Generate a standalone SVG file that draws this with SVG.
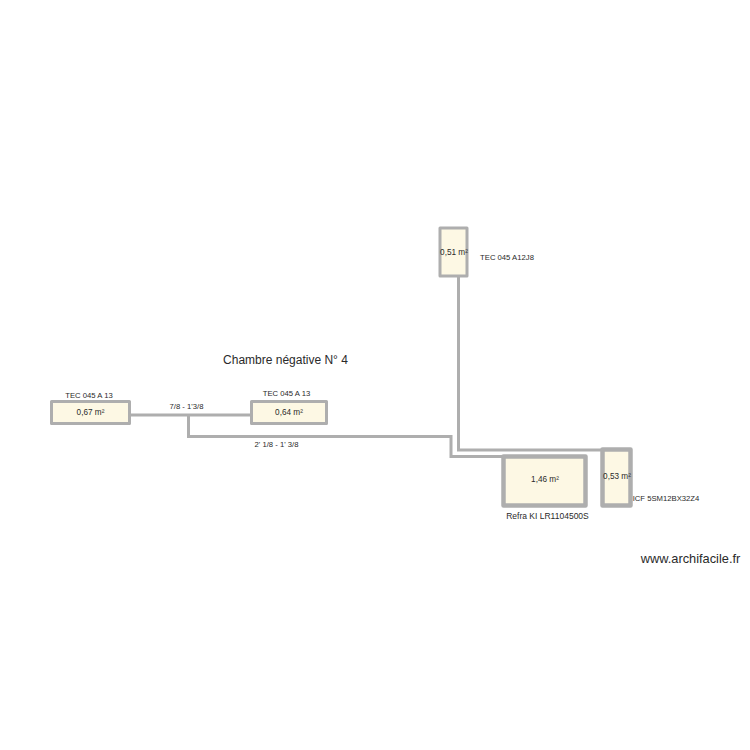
<svg xmlns="http://www.w3.org/2000/svg" width="750" height="750" viewBox="0 0 750 750">
<style>
text{font-family:"Liberation Sans",Arial,sans-serif;fill:#2a2a2a;text-anchor:middle}
.s{font-size:7.700px}
.a{font-size:8.200px}
.room{fill:#fdf8e4;stroke:#aeaeae;stroke-linejoin:round}
.thin{stroke-width:3px}
.thick{stroke-width:4.500px}
.pipe{fill:none;stroke:#aeaeae;stroke-width:3px}
</style>
<rect width="750" height="750" fill="#fff"/>
<g id="connectors">
<path class="pipe" d="M130 415H251"/>
<path class="pipe" d="M188.500 415V436.500H451V456.500H503"/>
<path class="pipe" d="M458.500 277V450H602"/>
</g>
<g id="node-tec-1"><rect class="room thin" x="51.500" y="401.500" width="78" height="22"/><text class="a" x="90.500" y="415">0,67 m²</text><text class="s" x="89" y="398">TEC 045 A 13</text></g>
<g id="node-tec-2"><rect class="room thin" x="251.500" y="401.500" width="75" height="22"/><text class="a" x="289" y="415">0,64 m²</text><text class="s" x="286.500" y="396">TEC 045 A 13</text></g>
<g id="node-tec-3"><rect class="room thin" x="440" y="228" width="27" height="48"/><text class="a" x="454" y="255">0,51 m²</text><text class="s" x="507" y="260">TEC 045 A12J8</text></g>
<g id="node-refra"><rect class="room thick" x="503.500" y="456.500" width="82" height="49"/><text class="a" x="545" y="482">1,46 m²</text><text x="547.500" y="519" font-size="8.500px">Refra KI LR1104500S</text></g>
<g id="node-icf"><rect class="room thick" x="602.500" y="449.500" width="28" height="56"/><text class="a" x="617" y="479">0,53 m²</text><text class="s" x="666" y="501">ICF 5SM12BX32Z4</text></g>
<g id="labels">
<text x="285.500" y="364" font-size="12px">Chambre négative N° 4</text>
<text class="s" x="186.500" y="409">7/8 - 1'3/8</text>
<text class="s" x="276.500" y="447">2' 1/8 - 1' 3/8</text>
<text x="690.500" y="563" font-size="12.800px">www.archifacile.fr</text>
</g>
</svg>
